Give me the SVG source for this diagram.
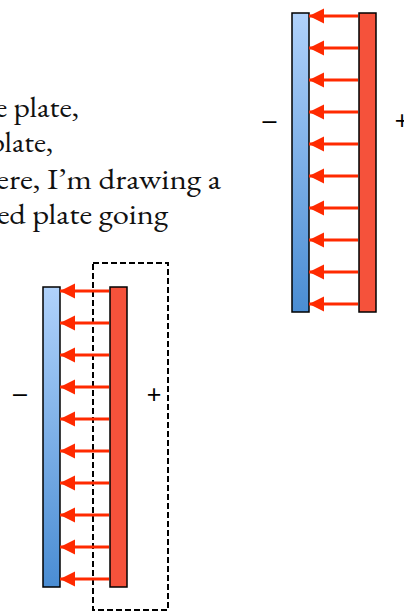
<svg xmlns="http://www.w3.org/2000/svg" width="404" height="611" viewBox="0 0 404 611">
  <style>
    .txt { font-family: "EB Garamond", "Liberation Serif", "Times New Roman", serif; font-size: 29px; fill: #111; text-anchor: end; }
    .sign { font-family: "Liberation Sans", Arial, sans-serif; font-size: 25px; fill: #000; text-anchor: middle; }
    .neg { fill: url(#blueGrad); stroke: #000; stroke-width: 1.5; }
    .pos { fill: #f5523b; stroke: #000; stroke-width: 1.5; }
    .field { stroke: #ff2a00; stroke-width: 3; fill: none; marker-end: url(#head); }
    .dash { fill: none; stroke: #000; stroke-width: 2; stroke-dasharray: 6 3; }
  </style>
  <defs>
    <linearGradient id="blueGrad" x1="0" y1="0" x2="0" y2="1">
      <stop offset="0" stop-color="#b0d2fb"/>
      <stop offset="1" stop-color="#4a8dd3"/>
    </linearGradient>
    <marker id="head" markerUnits="userSpaceOnUse" markerWidth="16" markerHeight="16" refX="15" refY="7.5" orient="auto">
      <path d="M0,0 L15,7.5 L0,15 Z" fill="#ff2a00"/>
    </marker>
  </defs>

  <g id="text">
    <text class="txt" x="79" y="117" textLength="84" lengthAdjust="spacingAndGlyphs">e plate,</text>
    <text class="txt" x="53" y="152" textLength="64" lengthAdjust="spacingAndGlyphs">plate,</text>
    <text class="txt" x="221" y="189" textLength="225" lengthAdjust="spacingAndGlyphs">ere, I’m drawing a</text>
    <text class="txt" x="168" y="224" textLength="171" lengthAdjust="spacingAndGlyphs">ed plate going</text>
  </g>

  <g id="capacitor-top">
    <rect class="neg" x="292" y="13" width="17" height="299"/>
    <rect class="pos" x="359" y="13" width="17" height="299"/>
    <text class="sign" x="269.5" y="129">–</text>
    <text class="sign" x="402" y="129">+</text>
  </g>

  <g id="capacitor-bottom">
    <rect class="neg" x="43" y="287" width="17" height="300"/>
    <rect class="pos" x="110" y="287" width="17" height="300"/>
    <text class="sign" x="20" y="402">–</text>
    <text class="sign" x="154" y="403">+</text>
  </g>

  <g id="gaussian-surface">
    <rect class="dash" x="93" y="263" width="75" height="347"/>
  </g>

  <g id="connectors">
    <line class="field" x1="358" y1="16" x2="309" y2="16"/>
    <line class="field" x1="358" y1="48" x2="309" y2="48"/>
    <line class="field" x1="358" y1="80" x2="309" y2="80"/>
    <line class="field" x1="358" y1="112" x2="309" y2="112"/>
    <line class="field" x1="358" y1="144" x2="309" y2="144"/>
    <line class="field" x1="358" y1="176" x2="309" y2="176"/>
    <line class="field" x1="358" y1="208" x2="309" y2="208"/>
    <line class="field" x1="358" y1="240" x2="309" y2="240"/>
    <line class="field" x1="358" y1="272" x2="309" y2="272"/>
    <line class="field" x1="358" y1="304" x2="309" y2="304"/>

    <line class="field" x1="109" y1="291" x2="60" y2="291"/>
    <line class="field" x1="109" y1="323" x2="60" y2="323"/>
    <line class="field" x1="109" y1="355" x2="60" y2="355"/>
    <line class="field" x1="109" y1="387" x2="60" y2="387"/>
    <line class="field" x1="109" y1="419" x2="60" y2="419"/>
    <line class="field" x1="109" y1="451" x2="60" y2="451"/>
    <line class="field" x1="109" y1="483" x2="60" y2="483"/>
    <line class="field" x1="109" y1="515" x2="60" y2="515"/>
    <line class="field" x1="109" y1="547" x2="60" y2="547"/>
    <line class="field" x1="109" y1="579" x2="60" y2="579"/>
  </g>
</svg>
